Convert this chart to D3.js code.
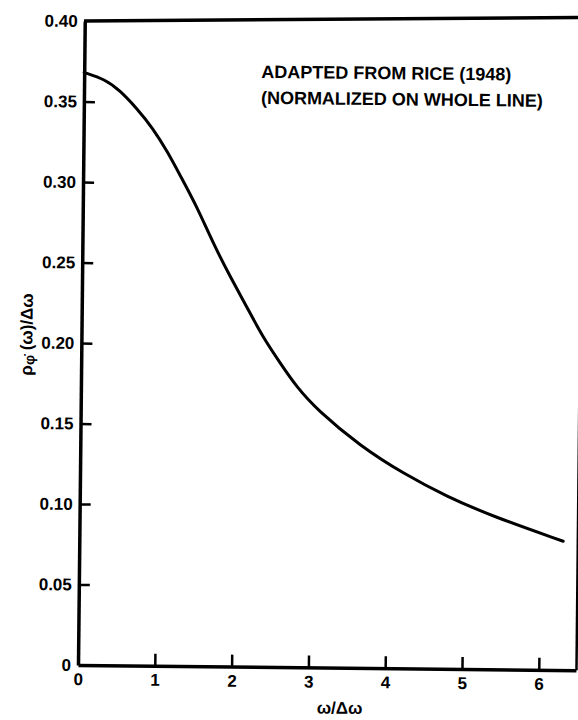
<!DOCTYPE html>
<html><head><meta charset="utf-8">
<script src="https://cdn.jsdelivr.net/npm/d3@7"></script>
<style>
html,body{margin:0;padding:0;background:#fff;}
svg{display:block;}
text{font-family:"Liberation Sans",Arial,Helvetica,sans-serif;fill:#000;}
</style>
</head><body>
<script>
// ---- data ----
const xValues = [0, 0.27, 0.47, 0.69, 0.90, 1.10, 1.26, 1.49, 1.70, 1.93, 2.15, 2.36, 2.59, 2.81, 3.08, 3.64, 4.21, 4.78, 5.38, 6.30];
const yValues = [0.368, 0.364, 0.357, 0.346, 0.334, 0.319, 0.305, 0.285, 0.263, 0.242, 0.2235, 0.205, 0.189, 0.174, 0.160, 0.138, 0.121, 0.107, 0.095, 0.080];
const xTicks = [0, 1, 2, 3, 4, 5, 6];
const yTicks = [0, 0.05, 0.10, 0.15, 0.20, 0.25, 0.30, 0.35, 0.40];
const yTickLabels = ["0", "0.05", "0.10", "0.15", "0.20", "0.25", "0.30", "0.35", "0.40"];
const noteLines = ["ADAPTED FROM RICE (1948)", "(NORMALIZED ON WHOLE LINE)"];
const xTitle = "ω/Δω";

const W = 578, H = 720;
const x0 = 78, xR = 576, yB = 665, yT = 21;
const x = d3.scaleLinear().domain([0, (xR - x0) / 76.8]).range([x0, xR]);
const y = d3.scaleLinear().domain([0, 0.4]).range([yB, yT]);

const svg = d3.select("body").append("svg").attr("width", W).attr("height", H);

// top frame line (scan is slightly skewed)
svg.append("line").attr("x1", 84).attr("x2", W + 2).attr("y1", 21).attr("y2", 17.5)
  .attr("stroke", "#000").attr("stroke-width", 3.5);

// scanned page is rotated slightly clockwise
const g = svg.append("g").attr("transform", `rotate(0.6, ${x0}, ${yB})`);

// right edge of frame
g.append("line").attr("x1", xR + 0.5).attr("x2", xR + 0.5).attr("y1", 312).attr("y2", yB)
  .attr("stroke", "#000").attr("stroke-width", 2.5);

// y axis
const yAxis = d3.axisLeft(y).tickValues(yTicks)
  .tickFormat((d, i) => yTickLabels[i]).tickSizeInner(-11).tickSizeOuter(0).tickPadding(7);
const ya = g.append("g").attr("transform", `translate(${x0},0)`).call(yAxis);
ya.select(".domain").attr("stroke", "#000").attr("stroke-width", 3.5);
ya.selectAll(".tick line").attr("stroke", "#000").attr("stroke-width", 2.5)
  .filter(d => d === 0 || d === 0.4).remove();
ya.selectAll(".tick text").attr("font-size", 17).attr("font-weight", "bold")
  .attr("font-family", "Liberation Sans, Arial, sans-serif").attr("fill", "#000");

// x axis
const xAxis = d3.axisBottom(x).tickValues(xTicks).tickFormat(d3.format("d"))
  .tickSizeInner(-12).tickSizeOuter(0).tickPadding(8);
const xa = g.append("g").attr("transform", `translate(0,${yB})`).call(xAxis);
xa.select(".domain").attr("stroke", "#000").attr("stroke-width", 3.5);
xa.selectAll(".tick line").attr("stroke", "#000").attr("stroke-width", 2.5)
  .filter(d => d === 0).remove();
xa.selectAll(".tick text").attr("font-size", 17).attr("font-weight", "bold")
  .attr("font-family", "Liberation Sans, Arial, sans-serif").attr("fill", "#000");

// curve
const pts = xValues.map((v, i) => [v, yValues[i]]);
g.append("path").datum(pts)
  .attr("fill", "none").attr("stroke", "#000").attr("stroke-width", 3)
  .attr("stroke-linecap", "round").attr("stroke-linejoin", "round")
  .attr("d", d3.line().x(d => x(d[0])).y(d => y(d[1])).curve(d3.curveBasis));

// annotation
const note = g.append("text").attr("x", 255).attr("y", 76)
  .attr("font-size", 18).attr("font-weight", "bold");
noteLines.forEach((t, i) => note.append("tspan").attr("x", 255).attr("dy", i ? 26 : 0).text(t));

// axis titles
g.append("text").attr("x", 340).attr("y", 711).attr("text-anchor", "middle")
  .attr("font-size", 17).attr("font-weight", "bold").text(xTitle);

const yt = g.append("text").attr("transform", "translate(29,335) rotate(-90)")
  .attr("text-anchor", "middle").attr("font-size", 17).attr("font-weight", "bold");
yt.append("tspan").text("ρ");
yt.append("tspan").attr("font-size", 14).attr("dy", 2).text("φ̇");
yt.append("tspan").attr("dy", -2).text(" (ω)/Δω");
</script>
</body></html>
